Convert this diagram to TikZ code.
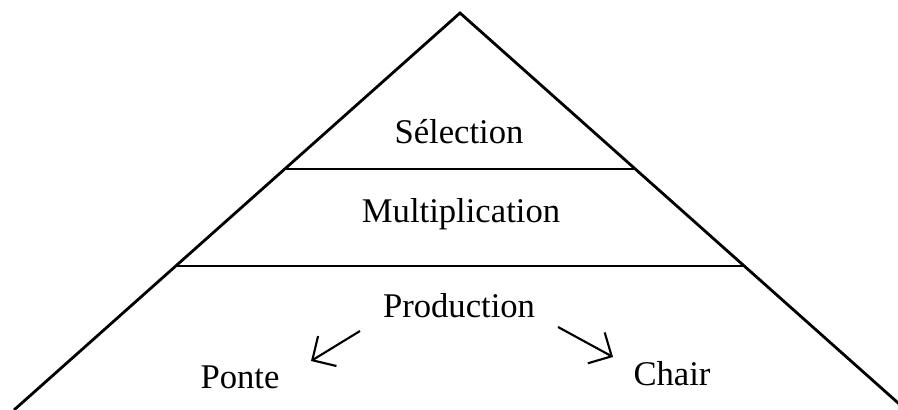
\documentclass[tikz,border=0pt]{standalone}
\usepackage{fontspec}
\setmainfont{Liberation Serif}
\usetikzlibrary{calc,arrows.meta}

\begin{document}
\begin{tikzpicture}[x=0.01cm, y=-0.01cm,
		label/.style={anchor=base, inner sep=0pt, font=\fontsize{9.85}{11}\selectfont},
		arr/.style={line width=0.6pt, -{Straight Barb[length=5pt, width=10pt, line width=0.6pt]}}]
		%%%%% START %%%%%
		
		\useasboundingbox (0, 0) rectangle (898, 410);
		\clip (0, 0) rectangle (898, 410);
		
		\coordinate (apex) at (460, 13);
		\coordinate (bl) at (14, 410);
		\coordinate (br) at (906, 410);
		
		\draw[line width=0.8pt, line join=miter] (bl) -- (apex) -- (br);
		
		\draw[line width=0.6pt] ($(apex)!0.393!(bl)$) -- ($(apex)!0.393!(br)$);
		\draw[line width=0.6pt] ($(apex)!0.637!(bl)$) -- ($(apex)!0.637!(br)$);
		
		\node[label] (sel) at (459, 144) {Sélection};
		\node[label] (mult) at (461, 223) {Multiplication};
		\node[label] (prod) at (459, 318) {Production};
		\node[label] (ponte) at (240, 389) {Ponte};
		\node[label] (chair) at (672, 386) {Chair};
		
		\coordinate (pl) at (360, 331);
		\coordinate (pt) at (311, 361);
		\coordinate (cl) at (558, 327);
		\coordinate (ct) at (613, 357);
		
		\draw[arr] (pl) -- (pt);
		\draw[arr] (cl) -- (ct);
		
		%%%%% END %%%%%
	\end{tikzpicture}
\end{document}
